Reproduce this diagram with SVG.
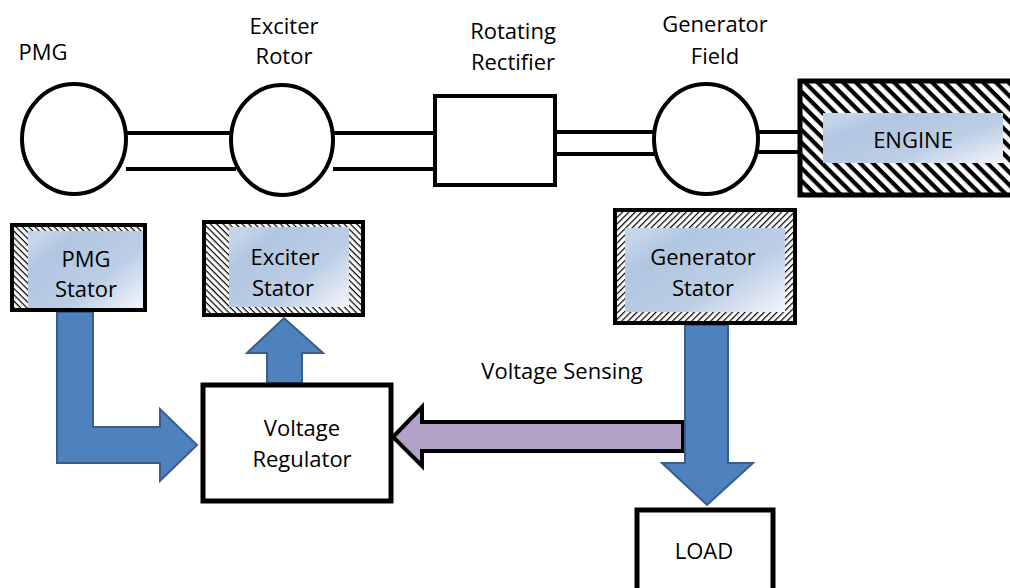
<svg xmlns="http://www.w3.org/2000/svg" width="1010" height="588" viewBox="0 0 1010 588">
<defs>
<pattern id="hatchHeavy" patternUnits="userSpaceOnUse" width="9" height="9" patternTransform="rotate(45)">
<rect width="9" height="9" fill="#fff"/>
<rect y="0" width="9" height="4.2" fill="#000"/>
</pattern>
<pattern id="hatchFineB" patternUnits="userSpaceOnUse" width="4.5" height="4.5" patternTransform="rotate(45)">
<rect width="4.5" height="4.5" fill="#fff"/>
<rect width="4.5" height="1.2" fill="#000"/>
</pattern>
<pattern id="hatchFineF" patternUnits="userSpaceOnUse" width="4.5" height="4.5" patternTransform="rotate(-45)">
<rect width="4.5" height="4.5" fill="#fff"/>
<rect width="4.5" height="1.2" fill="#000"/>
</pattern>
<linearGradient id="blueGrad" x1="0" y1="0.2" x2="1" y2="1">
<stop offset="0" stop-color="#C5D5E9"/>
<stop offset="0.18" stop-color="#B1C6E1"/>
<stop offset="0.6" stop-color="#BCCEE5"/>
<stop offset="1" stop-color="#F3F6FB"/>
</linearGradient>
<style>
.t{font-family:"Open Sans","Liberation Sans",sans-serif;font-size:22px;fill:#000;text-anchor:middle}
.ol{fill:#fff;stroke:#000;stroke-width:4}
.box{fill:#fff;stroke:#000;stroke-width:5}
.shaft{stroke:#000;stroke-width:4;fill:none}
.inner{fill:url(#blueGrad)}
.blue{fill:#4F81BD;stroke:#385D8A;stroke-width:2;stroke-linejoin:miter}
.purple{fill:#B3A2C7;stroke:#000;stroke-width:4;stroke-linejoin:miter}
</style>
</defs>

<g id="labels">
<text class="t" x="43" y="60">PMG</text>
<text class="t" x="284" y="34">Exciter</text>
<text class="t" x="284" y="64">Rotor</text>
<text class="t" x="513" y="39">Rotating</text>
<text class="t" x="513" y="70">Rectifier</text>
<text class="t" x="715" y="32">Generator</text>
<text class="t" x="715" y="64">Field</text>
<text class="t" x="562" y="379">Voltage Sensing</text>
</g>

<g id="connectors">
<line class="shaft" x1="126" y1="133" x2="232" y2="133"/>
<line class="shaft" x1="126" y1="169" x2="236" y2="169"/>
<line class="shaft" x1="333" y1="133" x2="435" y2="133"/>
<line class="shaft" x1="333" y1="169" x2="435" y2="169"/>
<line class="shaft" x1="555" y1="132" x2="656" y2="132"/>
<line class="shaft" x1="555" y1="154" x2="656" y2="154"/>
<line class="shaft" x1="757" y1="132" x2="800" y2="132"/>
<line class="shaft" x1="757" y1="152" x2="800" y2="152"/>
<polygon id="arrow-pmg-vr" class="blue" points="57,312 93,312 93,427 160,427 160,409 197,445 160,481 160,463 57,463"/>
<polygon id="arrow-vr-exc" class="blue" points="267,383 267,353 247,353 284,318 323,353 302,353 302,383"/>
<polygon id="arrow-sensing" class="purple" points="683,422 422,422 422,407 393,437 422,466 422,451 683,451"/>
<polygon id="arrow-gen-load" class="blue" points="685,325 728,325 728,463 753,463 707,505 662,463 685,463"/>
</g>

<g id="pmg">
<ellipse class="ol" cx="74" cy="139" rx="52" ry="55"/>
</g>
<g id="exciter-rotor">
<ellipse class="ol" cx="282" cy="140" rx="51" ry="55"/>
</g>
<g id="rotating-rectifier">
<rect x="435" y="96" width="120" height="89" fill="#fff" stroke="#000" stroke-width="4"/>
</g>
<g id="generator-field">
<ellipse class="ol" cx="706" cy="139" rx="52" ry="55"/>
</g>
<g id="engine">
<rect x="800" y="81" width="220" height="114" fill="url(#hatchHeavy)" stroke="#000" stroke-width="5"/>
<rect class="inner" x="823" y="113" width="180" height="50"/>
<text class="t" x="913" y="148">ENGINE</text>
</g>
<g id="pmg-stator">
<rect x="12" y="225" width="133" height="85" fill="url(#hatchFineB)" stroke="#000" stroke-width="4"/>
<rect class="inner" x="28" y="231" width="115" height="77"/>
<text class="t" x="86" y="267">PMG</text>
<text class="t" x="86" y="297">Stator</text>
</g>
<g id="exciter-stator">
<rect x="204" y="222" width="159" height="93" fill="url(#hatchFineB)" stroke="#000" stroke-width="4"/>
<rect class="inner" x="229" y="227" width="120" height="80"/>
<text class="t" x="285" y="265">Exciter</text>
<text class="t" x="283" y="296">Stator</text>
</g>
<g id="generator-stator">
<rect x="615" y="210" width="180" height="113" fill="url(#hatchFineF)" stroke="#000" stroke-width="4"/>
<rect class="inner" x="625" y="228" width="160" height="84"/>
<text class="t" x="703" y="265">Generator</text>
<text class="t" x="703" y="296">Stator</text>
</g>
<g id="voltage-regulator">
<rect class="box" x="203" y="385" width="188" height="116"/>
<text class="t" x="302" y="436">Voltage</text>
<text class="t" x="302" y="467">Regulator</text>
</g>
<g id="load">
<rect class="box" x="637" y="510" width="136" height="100"/>
<text class="t" x="704" y="559">LOAD</text>
</g>
</svg>
